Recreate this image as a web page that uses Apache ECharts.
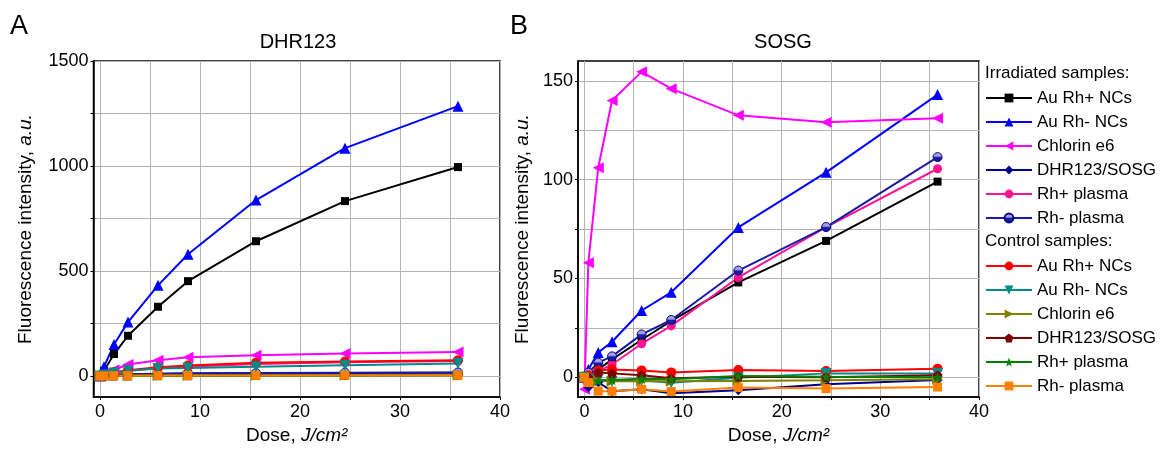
<!DOCTYPE html>
<html><head><meta charset="utf-8">
<script src="https://cdn.jsdelivr.net/npm/echarts@6/dist/echarts.min.js"></script>
<style>html,body{margin:0;padding:0;background:#fff}#c{width:1175px;height:450px}</style>
</head><body><div id="c"></div>
<script>
// ---- data ----
const doses = [0, 0.4, 1.4, 2.8, 5.8, 8.8, 15.6, 24.5, 35.8];
const xTickLabels = [0, 10, 20, 30, 40];
const xGridValues = [0, 5, 10, 15, 20, 25, 30, 35, 40];
const dhrYLabels = [0, 500, 1000, 1500];
const dhrYGrid = [0, 250, 500, 750, 1000, 1250, 1500];
const sosgYLabels = [0, 50, 100, 150];
const sosgYGrid = [0, 25, 50, 75, 100, 125, 150];

const seriesNames = ['Au Rh+ NCs', 'Au Rh- NCs', 'Chlorin e6', 'DHR123/SOSG', 'Rh+ plasma', 'Rh- plasma'];

// DHR123 panel, irradiated
const dhrIrrAuRhPlus  = [0, 25, 105, 192, 330, 452, 642, 833, 995];
const dhrIrrAuRhMinus = [0, 45, 150, 257, 432, 580, 838, 1085, 1285];
const dhrIrrChlorin   = [0, 12, 30, 55, 75, 90, 99, 107, 115];
const dhrIrrDhr       = [0, 3, 6, 8, 10, 12, 14, 15, 16];
const dhrIrrRhPlus    = [0, 5, 15, 25, 38, 45, 58, 66, 72];
const dhrIrrRhMinus   = [0, 3, 6, 9, 11, 13, 15, 16, 17];
// DHR123 panel, control
const dhrCtlAuRhPlus  = [0, 5, 18, 28, 42, 50, 63, 69, 75];
const dhrCtlAuRhMinus = [0, 5, 15, 25, 36, 39, 45, 52, 60];
const dhrCtlChlorin   = [0, 1, 2, 2, 3, 3, 3, 4, 4];
const dhrCtlDhr       = [0, 1, 2, 2, 3, 3, 4, 4, 5];
const dhrCtlRhPlus    = [0, 1, 2, 2, 3, 3, 3, 4, 4];
const dhrCtlRhMinus   = [0, 1, 2, 2, 3, 3, 3, 4, 4];

// SOSG panel, irradiated
const sosgIrrAuRhPlus  = [0, 1, 4, 9, 19, 28.5, 48, 69, 99];
const sosgIrrAuRhMinus = [0, 4, 12.6, 18, 33.8, 43, 75.8, 103.7, 143];
const sosgIrrChlorin   = [-6, 58, 106, 140, 154.5, 146, 132.5, 129, 131];
const sosgIrrDhr       = [0, -5, -2.5, -7, -6, -8, -6.5, -3.5, -1.4];
const sosgIrrRhPlus    = [0, 0, 3, 6.5, 17, 26, 50.5, 76, 105.5];
const sosgIrrRhMinus   = [0, 2.3, 7.4, 10.6, 21.7, 29, 54, 76, 111.4];
// SOSG panel, control
const sosgCtlAuRhPlus  = [0, 1, 3.5, 4, 3.5, 2.5, 3.7, 3.2, 4.4];
const sosgCtlAuRhMinus = [0, -1, -1, -2, -1.5, -2.7, -0.2, 2, 2];
const sosgCtlChlorin   = [0, -1, -1.5, -2, -2, -2, -1.8, -1.5, -1];
const sosgCtlDhr       = [0, 0, 2.5, 2, 1, -0.5, 0.3, 0, 1];
const sosgCtlRhPlus    = [0, -1, -1.8, -1.3, -0.7, -1, 0.7, 0.3, 0];
const sosgCtlRhMinus   = [0, -2.7, -7, -7, -6, -7.2, -5.2, -5.7, -4.9];

// ---- styles ----
const PENTAGON = 'path://M0,-10 L9.5,-3.1 L5.9,8.1 L-5.9,8.1 L-9.5,-3.1 Z';
const STAR = 'path://M0,-10 L2.4,-3.3 L9.5,-3.1 L3.9,1.3 L5.9,8.1 L0,4.1 L-5.9,8.1 L-3.9,1.3 L-9.5,-3.1 L-2.4,-3.3 Z';
const HALF = {type:'linear', x:0, y:0, x2:0, y2:1, colorStops:[
  {offset:0, color:'#a0a0e8'}, {offset:0.4, color:'#a0a0e8'}, {offset:0.55, color:'#1a1aa6'}, {offset:1, color:'#1a1aa6'}]};
const irrStyles = [
  {color:'#000000', symbol:'rect', size:8, rot:0},
  {color:'#0000ff', symbol:'triangle', size:11, rot:0},
  {color:'#ff00ff', symbol:'triangle', size:11, rot:90},
  {color:'#00008b', symbol:'diamond', size:10, rot:0},
  {color:'#ff1493', symbol:'circle', size:9, rot:0},
  {color:'#1a1aa6', symbol:'circle', size:9, rot:0, fill: HALF, border:'#0a0a80'}
];
const ctlStyles = [
  {color:'#ff0000', symbol:'circle', size:10, rot:0},
  {color:'#008b8b', symbol:'triangle', size:11, rot:180},
  {color:'#808000', symbol:'triangle', size:11, rot:-90},
  {color:'#800000', symbol:PENTAGON, size:10, rot:0},
  {color:'#008000', symbol:STAR, size:11, rot:0},
  {color:'#ff8000', symbol:'rect', size:9, rot:0}
];
const dhrIrr = [dhrIrrAuRhPlus, dhrIrrAuRhMinus, dhrIrrChlorin, dhrIrrDhr, dhrIrrRhPlus, dhrIrrRhMinus];
const dhrCtl = [dhrCtlAuRhPlus, dhrCtlAuRhMinus, dhrCtlChlorin, dhrCtlDhr, dhrCtlRhPlus, dhrCtlRhMinus];
const sosgIrr = [sosgIrrAuRhPlus, sosgIrrAuRhMinus, sosgIrrChlorin, sosgIrrDhr, sosgIrrRhPlus, sosgIrrRhMinus];
const sosgCtl = [sosgCtlAuRhPlus, sosgCtlAuRhMinus, sosgCtlChlorin, sosgCtlDhr, sosgCtlRhPlus, sosgCtlRhMinus];

const FONT = 'Liberation Sans, Arial, sans-serif';
const CTL = 'ctrl:';

function mk(name, st, vals, idx) {
  return {
    type:'line', name: name, xAxisIndex: idx, yAxisIndex: idx,
    data: doses.map((d, i) => [d, vals[i]]),
    symbol: st.symbol, symbolSize: st.size, symbolRotate: st.rot, symbolKeepAspect: true,
    showAllSymbol: true, clip: false, animation: false,
    lineStyle: {color: st.color, width: 2},
    itemStyle: {color: st.fill || st.color, borderColor: st.border || st.color, borderWidth: st.border ? 1 : 0},
    emphasis: {disabled: true}
  };
}
const series = [];
[[dhrIrr, dhrCtl, 0], [sosgIrr, sosgCtl, 1]].forEach(([irr, ctl, idx]) => {
  seriesNames.forEach((n, i) => series.push(mk(n, irrStyles[i], irr[i], idx)));
  seriesNames.forEach((n, i) => series.push(mk(CTL + n, ctlStyles[i], ctl[i], idx)));
});

function xAxis(gi) {
  return {
    type:'value', gridIndex: gi, min: -0.65, max: 40,
    name: 'Dose, {i|J/cm²}', nameLocation:'middle', nameGap: 28,
    nameTextStyle: {fontFamily: FONT, fontSize: 19, color:'#000', rich:{i:{fontFamily: FONT, fontSize:19, fontStyle:'italic', color:'#000'}}},
    axisLine: {show: true, onZero: false, lineStyle: {color:'#000', width: 1.5}},
    axisTick: {show: true, customValues: xGridValues, length: 3, lineStyle:{color:'#000'}},
    axisLabel: {customValues: xTickLabels, fontFamily: FONT, fontSize: 18, color:'#000', margin: 6, formatter: v => String(v)},
    splitLine: {show: true, lineStyle: {color:'#b4b4b4', width: 1}}
  };
}
function yAxis(gi, min, max, labels, grid, gap) {
  return {
    type:'value', gridIndex: gi, min: min, max: max,
    name: 'Fluorescence intensity, {i|a.u.}', nameLocation:'middle', nameGap: gap,
    nameTextStyle: {fontFamily: FONT, fontSize: 19, color:'#000', rich:{i:{fontFamily: FONT, fontSize:19, fontStyle:'italic', color:'#000'}}},
    axisLine: {show: true, onZero: false, lineStyle: {color:'#000', width: 1.5}},
    axisTick: {show: true, customValues: grid, length: 3, lineStyle:{color:'#000'}},
    axisLabel: {customValues: labels, fontFamily: FONT, fontSize: 18, color:'#000', margin: 5, formatter: v => String(v)},
    splitLine: {show: true, lineStyle: {color:'#b4b4b4', width: 1}}
  };
}

const legendBase = {orient:'vertical', left: 980, itemWidth: 46, itemHeight: 11, itemGap: 6, selectedMode: false,
  textStyle: {fontFamily: FONT, fontSize: 17, color:'#000', lineHeight: 18}};

const option = {
  backgroundColor: '#fff',
  animation: false,
  grid: [
    {left: 93.5, top: 61, width: 406.5, height: 337, show: true, borderColor:'#000', borderWidth: 1.5},
    {left: 578, top: 61, width: 401, height: 337, show: true, borderColor:'#000', borderWidth: 1.5}
  ],
  xAxis: [xAxis(0), xAxis(1)],
  yAxis: [yAxis(0, -100, 1500, dhrYLabels, dhrYGrid, 58), yAxis(1, -10, 160, sosgYLabels, sosgYGrid, 46)],
  legend: [
    Object.assign({}, legendBase, {data: seriesNames.map(n => ({name: n})), top: 84}),
    Object.assign({}, legendBase, {data: seriesNames.map(n => ({name: CTL + n})), top: 252,
      formatter: n => n.replace(CTL, '')})
  ],
  graphic: [
    {type:'text', x: 10, y: 13, style: {text:'A', font: '27px ' + FONT, fill:'#000'}},
    {type:'text', x: 510, y: 13, style: {text:'B', font: '27px ' + FONT, fill:'#000'}},
    {type:'text', x: 298, y: 42, style: {text:'DHR123', font: '20px ' + FONT, fill:'#000', align:'center', verticalAlign:'middle'}},
    {type:'text', x: 783, y: 42, style: {text:'SOSG', font: '20px ' + FONT, fill:'#000', align:'center', verticalAlign:'middle'}},
    {type:'text', x: 985, y: 73, style: {text:'Irradiated samples:', font: '17px ' + FONT, fill:'#000', verticalAlign:'middle'}},
    {type:'text', x: 985, y: 241, style: {text:'Control samples:', font: '17px ' + FONT, fill:'#000', verticalAlign:'middle'}}
  ],
  series: series
};
const chart = echarts.init(document.getElementById('c'), null, {renderer:'canvas'});
chart.setOption(option);
</script></body></html>
